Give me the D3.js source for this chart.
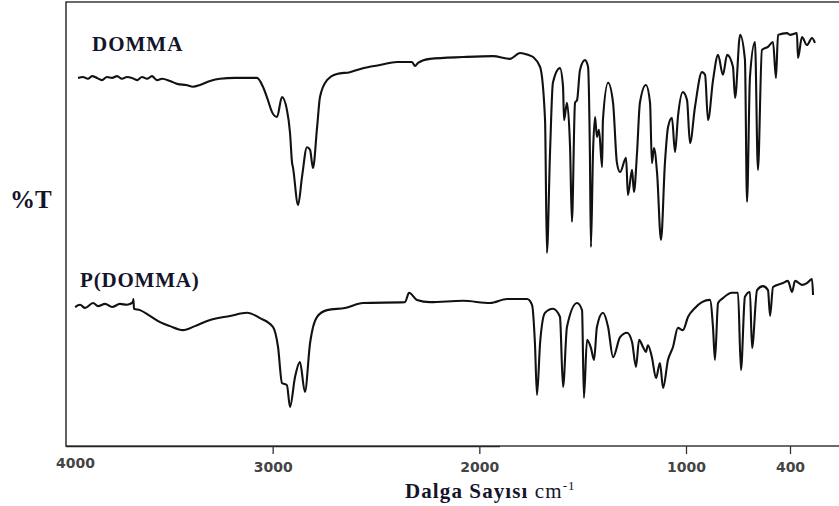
<!DOCTYPE html>
<html>
<head>
<meta charset="utf-8">
<script src="https://cdn.jsdelivr.net/npm/d3@7"></script>
<style>
  body { margin: 0; background: #fff; }
  svg { display: block; }
  .lbl { font-family: "Liberation Serif", "Times New Roman", serif; font-weight: bold; fill: #14142a; }
  .tick text { font-family: "DejaVu Sans", sans-serif; font-size: 14px; font-weight: bold; fill: #444; }
</style>
</head>
<body>
<svg id="ir" width="839" height="506"></svg>
<script>
// eksen degerleri (cm-1)
const tickValues = [4000, 3000, 2000, 1000, 400];
const tickLabels = ["4000", "3000", "2000", "1000", "400"];

// DOMMA spektrumu: dalga sayisi / %T
const dommaWn = [3942, 3918, 3894, 3874, 3850, 3826, 3802, 3777, 3753, 3729, 3705, 3681, 3656, 3632, 3608, 3584, 3560, 3535,
  3497, 3458, 3419, 3385, 3352, 3303, 3255, 3182, 3110, 3076, 3047, 3023, 3003, 2979, 2955, 2931, 2916, 2906, 2902, 2877,
  2858, 2834, 2819, 2805, 2785, 2771, 2737, 2689, 2626, 2563, 2481, 2398, 2326, 2311, 2297, 2239, 2079, 1934, 1852, 1803,
  1765, 1740, 1706, 1682, 1673, 1658, 1644, 1610, 1595, 1590, 1576, 1561, 1552, 1537, 1527, 1513, 1489, 1474, 1465, 1460,
  1450, 1440, 1431, 1421, 1406, 1402, 1377, 1353, 1334, 1319, 1290, 1281, 1261, 1252, 1237, 1223, 1194, 1174, 1165, 1155,
  1140, 1121, 1102, 1087, 1068, 1053, 1039, 1015, 994, 977, 948, 908, 890, 873, 844, 815, 787, 763, 729, 717, 688, 660,
  648, 631, 602, 585, 562, 527, 498, 481, 469, 417, 400, 360, 354, 331, 302, 273, 256];
const dommaT = [82.9, 83.1, 82.7, 83.3, 82.9, 82.4, 83.1, 82.9, 83.3, 82.7, 83.1, 82.9, 82.4, 83.1, 82.7, 83.3, 82.4, 82.7,
  82.2, 81.5, 81.3, 80.9, 81.3, 82.2, 82.7, 82.9, 82.9, 82.9, 80.9, 77.9, 75.2, 74.1, 78.6, 75.7, 70.5, 63.7, 62.8, 54.3,
  60.6, 67.3, 66.7, 62.6, 71.8, 78.6, 82.4, 83.8, 84.2, 85.1, 85.8, 86.5, 86.5, 85.6, 86.3, 87.2, 87.6, 87.8, 87.2, 88.5,
  88.1, 87.6, 85.4, 73.4, 43.5, 66.0, 81.8, 85.1, 80.9, 73.4, 77.3, 67.3, 50.5, 77.3, 77.9, 84.7, 86.9, 85.4, 66.0, 44.8,
  66.0, 74.1, 69.6, 71.2, 62.8, 73.4, 81.8, 77.3, 63.7, 61.7, 64.9, 56.5, 62.2, 57.2, 66.0, 77.3, 81.3, 77.3, 63.7, 67.1,
  61.5, 46.4, 63.7, 71.8, 73.9, 66.2, 74.1, 79.7, 77.9, 68.2, 76.4, 84.2, 83.6, 73.4, 82.4, 88.1, 83.6, 88.1, 85.4, 78.4,
  92.6, 87.0, 55.0, 83.1, 91.0, 62.2, 89.2, 89.9, 91.0, 82.9, 92.6, 93.0, 92.6, 93.0, 87.4, 92.1, 90.3, 91.9, 90.8];

// P(DOMMA) spektrumu
const pdommaWn = [3956, 3932, 3908, 3869, 3845, 3811, 3777, 3739, 3705, 3676, 3674, 3671, 3642, 3594, 3545, 3497, 3434,
  3376, 3303, 3206, 3124, 3061, 2998, 2974, 2955, 2931, 2916, 2892, 2868, 2844, 2819, 2785, 2737, 2650, 2563, 2360, 2340,
  2302, 2239, 2079, 1948, 1866, 1769, 1745, 1731, 1721, 1706, 1682, 1644, 1610, 1595, 1576, 1527, 1503, 1494, 1479, 1460,
  1445, 1431, 1402, 1377, 1353, 1319, 1285, 1261, 1242, 1227, 1208, 1194, 1184, 1165, 1145, 1126, 1111, 1087, 1063, 1039,
  1015, 988, 948, 908, 862, 844, 833, 815, 787, 735, 700, 683, 660, 631, 619, 590, 556, 527, 515, 498, 440, 412, 388, 371,
  331, 302, 273, 267];
const pdommaT = [31.3, 31.8, 31.1, 32.2, 31.5, 32.0, 31.3, 32.0, 31.8, 32.4, 33.1, 30.9, 30.6, 29.3, 27.9, 27.0, 26.1,
  27.0, 28.4, 29.3, 30.0, 28.8, 26.8, 22.3, 14.2, 13.7, 8.8, 15.5, 18.9, 12.2, 23.2, 29.1, 30.6, 31.1, 32.2, 32.4, 34.5,
  32.9, 32.4, 32.7, 32.2, 33.1, 33.1, 31.8, 23.2, 11.5, 23.2, 30.0, 30.9, 29.1, 13.3, 26.8, 32.2, 30.6, 10.8, 23.9, 22.1,
  19.4, 26.8, 30.0, 26.8, 20.0, 24.5, 25.5, 23.4, 17.8, 23.9, 22.3, 21.2, 22.7, 20.0, 15.3, 18.7, 13.1, 19.4, 22.3, 26.6,
  26.1, 29.1, 31.1, 32.4, 32.9, 26.6, 19.4, 32.2, 33.3, 34.5, 34.5, 17.1, 33.6, 34.7, 22.1, 35.1, 36.0, 35.1, 29.3, 35.8,
  36.7, 37.2, 34.7, 37.2, 36.3, 36.7, 37.6, 34.0];

const W = 839, H = 506;
const svg = d3.select("#ir");

// cizelgedeki eksen 1000'den sonra sikisiyor, o yuzden parcali olcek
const x = d3.scaleLinear().domain([4000, 1000, 400]).range([66, 686, 790]);
const y = d3.scaleLinear().domain([0, 100]).range([446, 2]);

const line = d3.line()
  .x(d => x(d[0]))
  .y(d => y(d[1]))
  .curve(d3.curveMonotoneX);

// cerceve (sag kenar resmin disinda kaliyor)
svg.append("path")
  .attr("d", `M${W + 6},${y(100)} H${x(4000)} V${y(0)} H${W + 6}`)
  .attr("fill", "none")
  .attr("stroke", "#3a3a3a")
  .attr("stroke-width", 1.6);

// alt cizginin sol tarafi daha kalin gorunuyor
svg.append("line")
  .attr("x1", x(4000)).attr("x2", x(1900))
  .attr("y1", y(0) + 0.6).attr("y2", y(0) + 0.6)
  .attr("stroke", "#222").attr("stroke-width", 1.4);

// alt eksen
const axis = d3.axisBottom(x)
  .tickValues(tickValues)
  .tickFormat((d, i) => tickLabels[i])
  .tickSize(8)
  .tickPadding(8);

const gx = svg.append("g")
  .attr("transform", `translate(0,${y(0)})`)
  .call(axis);
gx.select(".domain").remove();
gx.selectAll(".tick line").attr("stroke", "#333").attr("stroke-width", 1.3);
gx.selectAll(".tick").filter(d => d === 4000).select("line").remove();
gx.selectAll(".tick").filter(d => d === 4000).select("text").attr("dx", 9).attr("dy", "0.45em");

// spektrumlar
const series = [
  { name: "DOMMA", wn: dommaWn, t: dommaT },
  { name: "P(DOMMA)", wn: pdommaWn, t: pdommaT }
];

svg.selectAll("path.spec")
  .data(series)
  .enter()
  .append("path")
  .attr("class", "spec")
  .attr("d", s => line(s.wn.map((w, i) => [w, s.t[i]])))
  .attr("fill", "none")
  .attr("stroke", "#111")
  .attr("stroke-width", 2.1)
  .attr("stroke-linejoin", "round");

// etiketler
svg.append("text").attr("class", "lbl")
  .attr("x", 92).attr("y", 51).attr("font-size", 21).attr("letter-spacing", 1).text("DOMMA");
svg.append("text").attr("class", "lbl")
  .attr("x", 80).attr("y", 287).attr("font-size", 21).attr("letter-spacing", 0.8).text("P(DOMMA)");
svg.append("text").attr("class", "lbl")
  .attr("x", 10).attr("y", 208).attr("font-size", 25).text("%T");

const xt = svg.append("text").attr("class", "lbl")
  .attr("x", 405).attr("y", 498).attr("font-size", 21).attr("letter-spacing", 1.1);
xt.append("tspan").text("Dalga Sayısı ");
xt.append("tspan").attr("font-weight", "normal").text("cm");
xt.append("tspan").attr("font-weight", "normal").attr("font-size", 13).attr("dy", -8).text("-1");
</script>
</body>
</html>
